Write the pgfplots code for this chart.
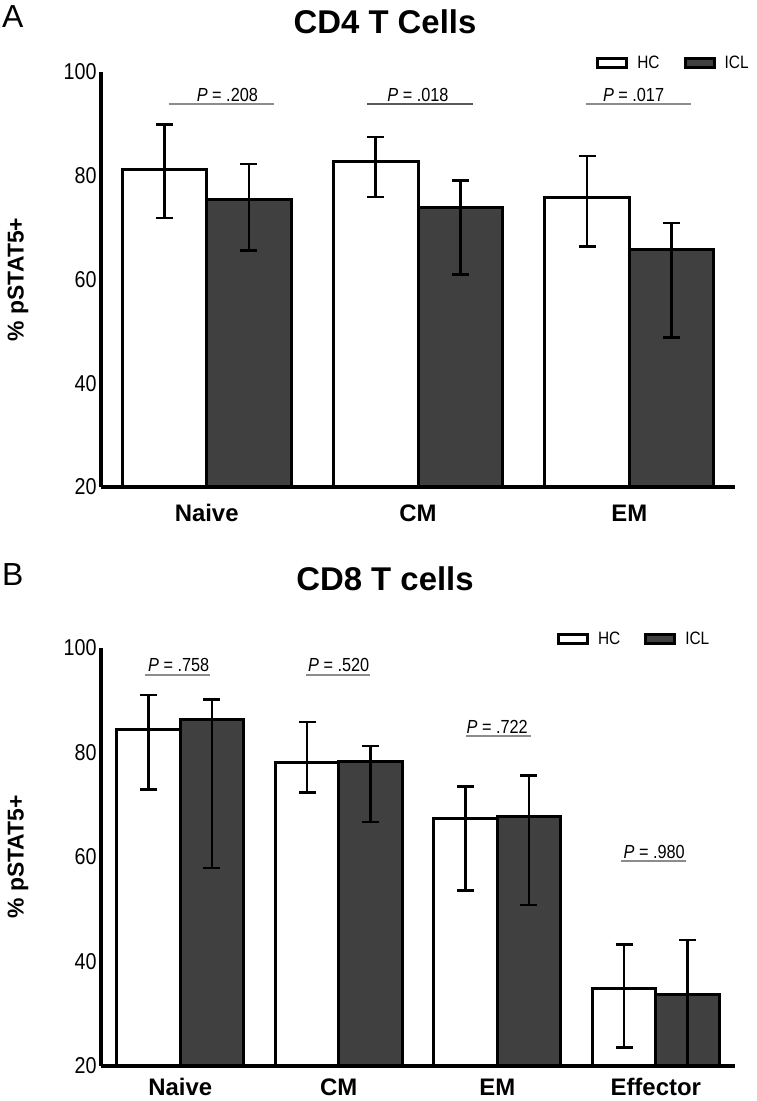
\documentclass[border=0pt]{standalone}
\usepackage{fontspec}
\setmainfont{Liberation Sans}
\newfontfamily\nf[FakeStretch=0.86]{Liberation Sans}
\usepackage{pgfplots}
\pgfplotsset{compat=1.18}
\definecolor{icl}{RGB}{64,64,64}
\definecolor{plight}{RGB}{140,140,140}
\definecolor{pdark}{RGB}{90,90,90}
\tikzset{ptext/.style={font=\nf\fontsize{19}{19}\selectfont, inner sep=0pt}}
\pgfplotsset{
  errstyle/.style={
    error bars/y dir=both, error bars/y explicit,
    error bars/error bar style={line width=2.5bp, black, solid},
    error bars/error mark options={rotate=90, mark size=8.5bp, line width=2.5bp, black}},
  hcbar/.style={fill=white, draw=black, line width=3bp,
    legend image code/.code={\draw[fill=white,draw=black,line width=3bp] (0bp,-4.5bp) rectangle (29bp,4.5bp);},
    errstyle},
  iclbar/.style={fill=icl, draw=black, line width=3bp,
    legend image code/.code={\draw[fill=icl,draw=black,line width=3bp] (0bp,-4.5bp) rectangle (29bp,4.5bp);},
    errstyle},
  panel/.style={
    anchor=south west, scale only axis, width=634bp,
    ybar=0pt, bar width=0.4,
    ymin=20, ymax=100,
    axis lines=left, axis line style={line width=4bp, -},
    ytick={20,40,60,80,100},
    major tick length=0pt,
    /pgf/number format/assume math mode=true,
    yticklabel style={font=\nf\fontsize{23}{23}\selectfont, xshift=-1bp},
    xticklabel style={font=\bfseries\fontsize{24}{24}\selectfont, anchor=base, yshift=-35bp},
    ylabel={\% pSTAT5+},
    every axis y label/.style={at={(axis description cs:0,0.5)}, xshift=-83bp, rotate=90, anchor=center,
      font=\bfseries\fontsize{23}{23}\selectfont},
    legend columns=2,
    legend style={draw=none, fill=none, inner sep=0pt, anchor=west,
      font=\nf\fontsize{18}{18}\selectfont,
      /tikz/every odd column/.append style={column sep=7bp},
      /tikz/every even column/.append style={column sep=22bp}},
  },
}
\begin{document}
\begin{tikzpicture}
\useasboundingbox (0bp,0bp) rectangle (757bp,1101bp);
\node[anchor=west, font=\fontsize{32}{32}\selectfont, inner sep=0pt] at (2bp,1084bp) {A};
\node[font=\bfseries\fontsize{33}{33}\selectfont] at (385bp,1079bp) {CD4 T Cells};
\begin{axis}[panel,
  at={(101bp,614bp)}, height=415bp,
  xmin=-0.5, xmax=2.5,
  xtick={0,1,2}, xticklabels={Naive,CM,EM},
  legend style={at={(axis description cs:0.781,1.0217)}},
]
\addplot[hcbar] coordinates {
  (0,81.2) += (0,8.7) -= (0,9.3)
  (1,82.7) += (0,4.8) -= (0,6.8)
  (2,75.9) += (0,7.9) -= (0,9.5)
};
\addlegendentry{HC}
\addplot[iclbar] coordinates {
  (0,75.4) += (0,6.9) -= (0,9.8)
  (1,73.8) += (0,5.3) -= (0,12.8)
  (2,65.7) += (0,5.2) -= (0,16.9)
};
\addlegendentry{ICL}
\draw[plight, line width=2bp] (axis cs:-0.18,93.8) -- (axis cs:0.32,93.8);
\draw[pdark, line width=2bp] (axis cs:0.76,93.8) -- (axis cs:1.26,93.8);
\draw[plight, line width=2bp] (axis cs:1.795,93.8) -- (axis cs:2.293,93.8);
\node[ptext] at (axis cs:0.098,95.6) {\textit{P} = .208};
\node[ptext] at (axis cs:1.0,95.6) {\textit{P} = .018};
\node[ptext] at (axis cs:2.02,95.6) {\textit{P} = .017};
\end{axis}
\node[anchor=west, font=\fontsize{32}{32}\selectfont, inner sep=0pt] at (2bp,526bp) {B};
\node[font=\bfseries\fontsize{33}{33}\selectfont] at (385bp,522bp) {CD8 T cells};
\begin{axis}[panel,
  at={(101bp,35bp)}, height=418bp,
  xmin=-0.5, xmax=3.5,
  xtick={0,1,2,3}, xticklabels={Naive,CM,EM,Effector},
  xticklabel style={yshift=6bp},
  legend style={at={(axis description cs:0.719,1.0215)}},
]
\addplot[hcbar] coordinates {
  (0,84.4) += (0,6.6) -= (0,11.5)
  (1,78.1) += (0,7.7) -= (0,5.8)
  (2,67.4) += (0,6.1) -= (0,13.8)
  (3,34.9) += (0,8.4) -= (0,11.4)
};
\addlegendentry{HC}
\addplot[iclbar] coordinates {
  (0,86.3) += (0,3.8) -= (0,28.4)
  (1,78.3) += (0,2.9) -= (0,11.6)
  (2,67.7) += (0,7.9) -= (0,16.9)
  (3,33.7) += (0,10.4) -= (0,17.0)
};
\addlegendentry{ICL}
\draw[plight, line width=2bp] (axis cs:-0.22,94.9) -- (axis cs:0.19,94.9);
\draw[plight, line width=2bp] (axis cs:0.795,94.9) -- (axis cs:1.2,94.9);
\draw[plight, line width=2bp] (axis cs:1.803,83.1) -- (axis cs:2.21,83.1);
\draw[plight, line width=2bp] (axis cs:2.783,59.2) -- (axis cs:3.19,59.2);
\node[ptext] at (axis cs:-0.01,96.7) {\textit{P} = .758};
\node[ptext] at (axis cs:1.0,96.7) {\textit{P} = .520};
\node[ptext] at (axis cs:2.0,84.9) {\textit{P} = .722};
\node[ptext] at (axis cs:2.99,61.0) {\textit{P} = .980};
\end{axis}
\end{tikzpicture}
\end{document}
